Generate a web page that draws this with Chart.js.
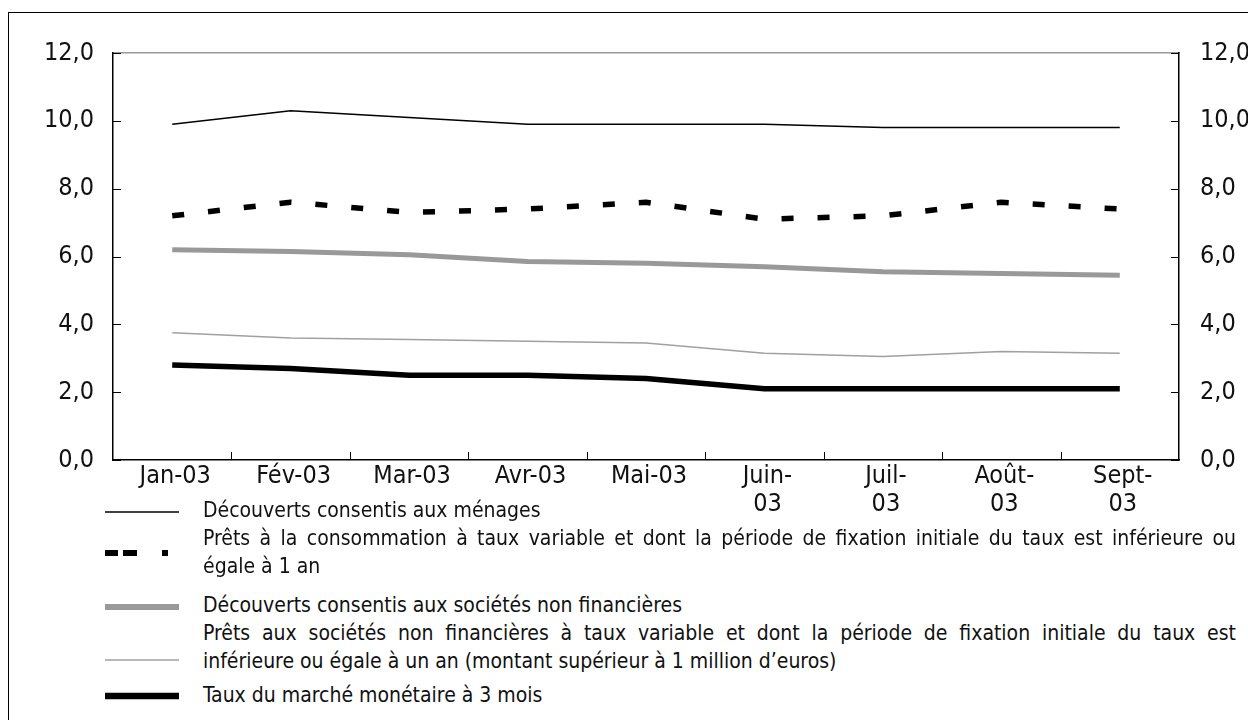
<!DOCTYPE html>
<html>
<head>
<meta charset="utf-8">
<script src="https://cdn.jsdelivr.net/npm/chart.js@4.4.1/dist/chart.umd.min.js"></script>
<style>
  html, body { margin: 0; padding: 0; background: #fff; overflow: hidden; }
  body { width: 1248px; height: 720px; position: relative;
         font-family: "Liberation Sans Narrow", "DejaVu Sans Condensed", sans-serif; color: #111; }
  #frame { position: absolute; left: 8px; top: 12px; width: 1400px; height: 900px;
           border-left: 1.5px solid #000; border-top: 1.5px solid #000; }
  #wrap { position: absolute; left: 0; top: 0; width: 1248px; height: 520px; }
  .leg { position: absolute; left: 203px; width: 1033px; font-size: 21px; line-height: 28px; }
  .leg div { white-space: nowrap; }
  .leg .j { text-align: justify; text-align-last: justify; white-space: normal; }
  .sample { position: absolute; left: 105px; width: 74px; height: 10px; }
</style>
</head>
<body>
<div id="frame"></div>
<div id="wrap"><canvas id="chart"></canvas></div>

<!-- légende -->
<svg class="sample" style="top:507px"><line x1="0" y1="5" x2="74" y2="5" stroke="#000" stroke-width="1.5"/></svg>
<div class="leg" style="top:496px"><div>Découverts consentis aux ménages</div></div>

<svg class="sample" style="top:548px"><line x1="0" y1="5" x2="74" y2="5" stroke="#000" stroke-width="6" stroke-dasharray="13 5 14 25 6 40"/></svg>
<div class="leg" style="top:524px">
  <div class="j">Prêts à la consommation à taux variable et dont la période de fixation initiale du taux est inférieure ou</div>
  <div>égale à 1 an</div>
</div>

<svg class="sample" style="top:602px"><line x1="0" y1="5" x2="74" y2="5" stroke="#999" stroke-width="6"/></svg>
<div class="leg" style="top:591px"><div>Découverts consentis aux sociétés non financières</div></div>

<svg class="sample" style="top:655px"><line x1="0" y1="5" x2="74" y2="5" stroke="#a0a0a0" stroke-width="1.5"/></svg>
<div class="leg" style="top:619px">
  <div class="j">Prêts aux sociétés non financières à taux variable et dont la période de fixation initiale du taux est</div>
  <div>inférieure ou égale à un an (montant supérieur à 1 million d’euros)</div>
</div>

<svg class="sample" style="top:691px"><line x1="0" y1="5" x2="74" y2="5" stroke="#000" stroke-width="6.5"/></svg>
<div class="leg" style="top:681px"><div>Taux du marché monétaire à 3 mois</div></div>

<script>
// ---------------- Données ----------------
const months = ["Jan-03", "Fév-03", "Mar-03", "Avr-03", "Mai-03",
                ["Juin-", "03"], ["Juil-", "03"], ["Août-", "03"], ["Sept-", "03"]];
const yTickLabels = ["0,0", "2,0", "4,0", "6,0", "8,0", "10,0", "12,0"];

const decouvertsMenages   = [9.9, 10.3, 10.1, 9.9, 9.9, 9.9, 9.8, 9.8, 9.8];
const pretsConsommation   = [7.2, 7.6, 7.3, 7.4, 7.6, 7.1, 7.2, 7.6, 7.4];
const decouvertsSocietes  = [6.2, 6.15, 6.05, 5.85, 5.8, 5.7, 5.55, 5.5, 5.45];
const pretsSocietes       = [3.75, 3.6, 3.55, 3.5, 3.45, 3.15, 3.05, 3.2, 3.15];
const tauxMonetaire3Mois  = [2.8, 2.7, 2.5, 2.5, 2.4, 2.1, 2.1, 2.1, 2.1];

const FONT = "'Liberation Sans Narrow', 'DejaVu Sans Condensed', sans-serif";

// petites graduations tournées vers l'intérieur
const innerTicks = {
    id: "innerTicks",
    afterDraw(chart) {
        const ctx = chart.ctx;
        const { x, y } = chart.scales;
        const area = chart.chartArea;
        ctx.save();
        ctx.strokeStyle = "#000";
        ctx.lineWidth = 1;
        ctx.beginPath();
        for (let i = 0; i < months.length - 1; i++) {
            const px = Math.round((x.getPixelForValue(i) + x.getPixelForValue(i + 1)) / 2) + 0.5;
            ctx.moveTo(px, area.bottom);
            ctx.lineTo(px, area.bottom - 8);
        }
        y.ticks.forEach((t, i) => {
            const py = Math.round(y.getPixelForTick(i)) + 0.5;
            ctx.moveTo(area.left, py);
            ctx.lineTo(area.left + 8, py);
            ctx.moveTo(area.right, py);
            ctx.lineTo(area.right - 8, py);
        });
        ctx.stroke();
        ctx.restore();
    }
};

const yTicks = {
    min: 0, max: 12,
    ticks: {
        stepSize: 2,
        color: "#111",
        font: { family: FONT, size: 25 },
        callback: (v, i) => yTickLabels[i]
    },
    grid: { display: false },
    border: { display: true, color: "#000", width: 1.5 }
};

new Chart(document.getElementById("chart"), {
    type: "line",
    data: {
        labels: months,
        datasets: [
            { label: "Découverts consentis aux ménages", data: decouvertsMenages,
              borderColor: "#000", borderWidth: 1.5 },
            { label: "Prêts à la consommation", data: pretsConsommation,
              borderColor: "#000", borderWidth: 5.5, borderDash: [12, 24] },
            { label: "Découverts consentis aux sociétés non financières", data: decouvertsSocietes,
              borderColor: "#999", borderWidth: 5 },
            { label: "Prêts aux sociétés non financières", data: pretsSocietes,
              borderColor: "#a0a0a0", borderWidth: 1.5 },
            { label: "Taux du marché monétaire à 3 mois", data: tauxMonetaire3Mois,
              borderColor: "#000", borderWidth: 5.5 }
        ]
    },
    options: {
        responsive: true,
        maintainAspectRatio: false,
        animation: false,
        layout: { padding: 0 },
        elements: { point: { radius: 0 }, line: { tension: 0, borderJoinStyle: "round" } },
        plugins: { legend: { display: false }, tooltip: { enabled: false } },
        scales: {
            x: {
                offset: true,
                ticks: { color: "#111", font: { family: FONT, size: 25, lineHeight: 1.1 },
                         padding: -5, maxRotation: 0, autoSkip: false, labelOffset: 3 },
                grid: { display: false },
                border: { display: true, color: "#000", width: 1.5 },
                afterFit: s => { s.height = 60; }
            },
            xTop: {
                position: "top",
                ticks: { display: false },
                grid: { display: false },
                border: { display: true, color: "#999", width: 1.5 },
                afterFit: s => { s.height = 53; }
            },
            y: { ...yTicks, position: "left",
                 ticks: { ...yTicks.ticks, padding: 11 },
                 afterFit: s => { s.width = 113; } },
            y2: { ...yTicks, position: "right",
                  ticks: { ...yTicks.ticks, padding: 13 },
                  afterFit: s => { s.width = 69; } }
        }
    },
    plugins: [innerTicks]
});
</script>
</body>
</html>
